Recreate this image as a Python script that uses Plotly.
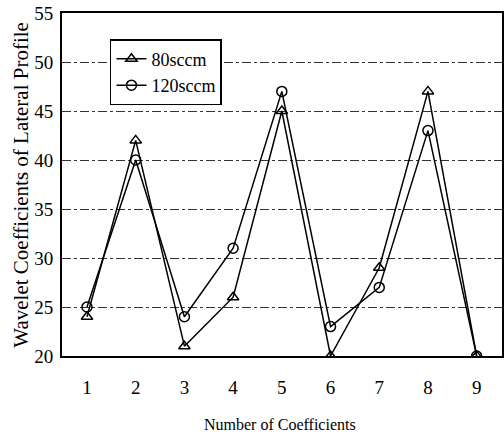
import plotly.graph_objects as go

x_vals = [1, 2, 3, 4, 5, 6, 7, 8, 9]
s80 = [24, 42, 21, 26, 45, 20, 29, 47, 20]
s120 = [25, 40, 24, 31, 47, 23, 27, 43, 20]
y_ticks = [20, 25, 30, 35, 40, 45, 50, 55]

font = "Liberation Serif"
fig = go.Figure()
fig.add_trace(go.Scatter(x=x_vals, y=s80, name="80sccm", mode="lines+markers",
                         line=dict(color="black", width=1.5),
                         marker=dict(symbol="triangle-up-open", size=10, color="black",
                                     line=dict(width=1.5))))
fig.add_trace(go.Scatter(x=x_vals, y=s120, name="120sccm", mode="lines+markers",
                         line=dict(color="black", width=1.5),
                         marker=dict(symbol="circle-open", size=10, color="black",
                                     line=dict(width=1.5))))

fig.update_layout(
    width=504, height=440,
    margin=dict(l=62, r=2, t=13, b=84),
    paper_bgcolor="white", plot_bgcolor="white",
    font=dict(family=font, size=19, color="black"),
    showlegend=True,
    legend=dict(x=0.109, y=0.924, xanchor="left", yanchor="top",
                bordercolor="black", borderwidth=1.5, bgcolor="white",
                font=dict(size=18, family=font), tracegroupgap=0,
                itemwidth=30),
    annotations=[
        dict(text="Number of Coefficients", xref="paper", yref="paper",
             x=0.495, y=-0.201, xanchor="center", yanchor="middle", showarrow=False,
             font=dict(size=16, family=font)),
        dict(text="Wavelet Coefficients of Lateral Profile", xref="paper", yref="paper",
             x=-0.095, y=0.5, xanchor="center", yanchor="middle", showarrow=False,
             textangle=-90, font=dict(size=21, family=font)),
    ],
)
fig.update_xaxes(range=[0.487, 9.52], tickvals=x_vals, showgrid=False,
                 showline=True, linecolor="black", linewidth=2, mirror=True,
                 ticks="", ticklabelstandoff=13, zeroline=False, automargin=False)
fig.update_yaxes(range=[20, 55], tickvals=y_ticks, showgrid=True,
                 gridcolor="#333333", griddash="dashdot", gridwidth=1,
                 showline=True, linecolor="black", linewidth=2, mirror=True,
                 ticks="", zeroline=False, automargin=False, ticklabelstandoff=3)
fig.write_html("out.html", config={"displayModeBar": False},
               post_script="document.body.style.margin='0';document.body.style.overflow='hidden';")
